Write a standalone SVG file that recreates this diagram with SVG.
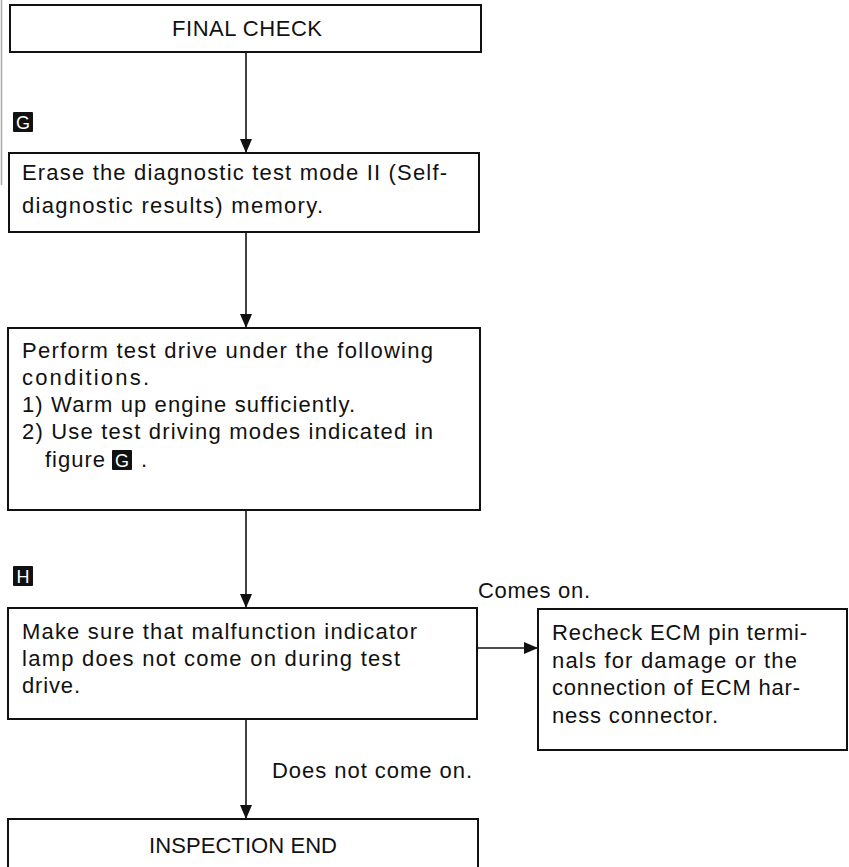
<svg xmlns="http://www.w3.org/2000/svg" width="849" height="867" viewBox="0 0 849 867">
<style>
.box{fill:#fff;stroke:#111;stroke-width:2}
.t{font-family:"Liberation Sans",Arial,sans-serif;font-size:22px;fill:#111}
.c{text-anchor:middle}
.conn{stroke:#111;stroke-width:1.6;fill:none}
.badge{fill:#111}
.bt{font-family:"Liberation Sans",Arial,sans-serif;font-size:18px;fill:#fff;text-anchor:middle}
</style>
<defs>
<marker id="arr" markerUnits="userSpaceOnUse" markerWidth="14" markerHeight="14" refX="14" refY="6" orient="auto">
<path d="M0,0 L14,6 L0,12 Z" fill="#111"/>
</marker>
</defs>
<line x1="1.5" y1="0" x2="1.5" y2="185" stroke="#aaa" stroke-width="1.5"/>
<g id="connectors">
<line class="conn" x1="246" y1="52" x2="246" y2="153" marker-end="url(#arr)"/>
<line class="conn" x1="246" y1="232" x2="246" y2="328" marker-end="url(#arr)"/>
<line class="conn" x1="246" y1="510" x2="246" y2="608" marker-end="url(#arr)"/>
<line class="conn" x1="477" y1="648" x2="538" y2="648" marker-end="url(#arr)"/>
<line class="conn" x1="246" y1="719" x2="246" y2="819" marker-end="url(#arr)"/>
<text class="t" x="478" y="598" textLength="112" lengthAdjust="spacing">Comes on.</text>
<text class="t" x="272" y="778" textLength="200" lengthAdjust="spacing">Does not come on.</text>
</g>
<g id="badgeG">
<rect class="badge" x="13" y="112" width="20" height="20" rx="1"/>
<text class="bt" x="23" y="128.5">G</text>
</g>
<g id="badgeH">
<rect class="badge" x="13" y="566" width="20" height="20" rx="1"/>
<text class="bt" x="23" y="582.5">H</text>
</g>
<g id="final-check">
<rect class="box" x="10" y="5" width="471" height="47"/>
<text class="t c" x="247" y="36" textLength="150" lengthAdjust="spacing">FINAL CHECK</text>
</g>
<g id="erase">
<rect class="box" x="9" y="153" width="470" height="79"/>
<text class="t" x="22" y="180" textLength="425" lengthAdjust="spacing">Erase the diagnostic test mode II (Self-</text>
<text class="t" x="22" y="213" textLength="301" lengthAdjust="spacing">diagnostic results) memory.</text>
</g>
<g id="test-drive">
<rect class="box" x="8" y="328" width="472" height="182"/>
<text class="t" x="22" y="358" textLength="411" lengthAdjust="spacing">Perform test drive under the following</text>
<text class="t" x="22" y="385" textLength="127" lengthAdjust="spacing">conditions.</text>
<text class="t" x="22" y="412" textLength="333" lengthAdjust="spacing">1) Warm up engine sufficiently.</text>
<text class="t" x="22" y="439" textLength="411" lengthAdjust="spacing">2) Use test driving modes indicated in</text>
<text class="t" x="45" y="467" textLength="60" lengthAdjust="spacing">figure</text>
<rect class="badge" x="112" y="450" width="20" height="20" rx="1"/>
<text class="bt" x="122" y="466.5">G</text>
<text class="t" x="141" y="467">.</text>
</g>
<g id="mil-check">
<rect class="box" x="8" y="608" width="469" height="111"/>
<text class="t" x="22" y="639" textLength="395" lengthAdjust="spacing">Make sure that malfunction indicator</text>
<text class="t" x="22" y="666" textLength="378" lengthAdjust="spacing">lamp does not come on during test</text>
<text class="t" x="22" y="693" textLength="58" lengthAdjust="spacing">drive.</text>
</g>
<g id="recheck">
<rect class="box" x="538" y="609" width="309" height="141"/>
<text class="t" x="552" y="640" textLength="255" lengthAdjust="spacing">Recheck ECM pin termi-</text>
<text class="t" x="552" y="668" textLength="245" lengthAdjust="spacing">nals for damage or the</text>
<text class="t" x="552" y="695" textLength="248" lengthAdjust="spacing">connection of ECM har-</text>
<text class="t" x="552" y="723" textLength="166" lengthAdjust="spacing">ness connector.</text>
</g>
<g id="inspection-end">
<rect class="box" x="8" y="819" width="470" height="60"/>
<text class="t c" x="243" y="853" textLength="188" lengthAdjust="spacing">INSPECTION END</text>
</g>
</svg>
